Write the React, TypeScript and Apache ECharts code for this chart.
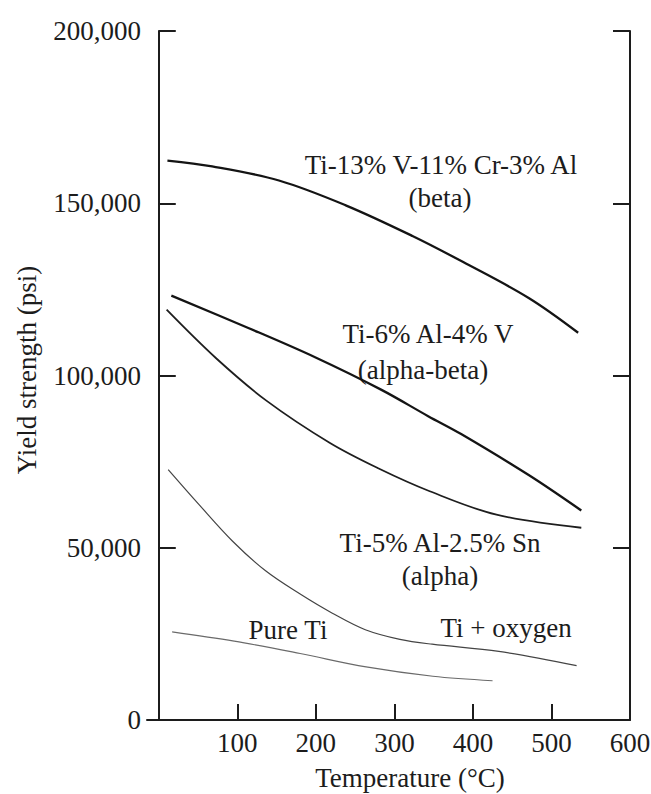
import React, { useEffect, useRef } from "react";
import * as echarts from "echarts";

// Temperature (°C) and yield strength (psi) for each curve
const betaTemps = [11, 68, 153, 238, 323, 387, 471, 534];
const betaStrength = [162400, 160700, 156600, 149400, 140500, 133000, 122500, 112400];

const alphaBetaTemps = [16, 114, 199, 283, 343, 385, 471, 538];
const alphaBetaStrength = [123200, 113800, 105300, 95900, 88200, 83000, 71100, 60800];

const alphaTemps = [10, 73, 137, 218, 280, 345, 430, 538];
const alphaStrength = [119100, 105000, 92700, 80400, 73000, 66400, 59600, 55800];

const oxygenTemps = [12, 51, 94, 136, 179, 221, 263, 307, 348, 433, 532];
const oxygenStrength = [72700, 62600, 51900, 43300, 36700, 31000, 26200, 23400, 22000, 19900, 15800];

const pureTemps = [17, 96, 180, 264, 349, 425];
const pureStrength = [25600, 22900, 19300, 15400, 12700, 11400];

const xTickValues = [100, 200, 300, 400, 500];
const xLabelValues = [100, 200, 300, 400, 500, 600];

const FONT = '"Liberation Serif", "DejaVu Serif", serif';
const INK = "#1c1c1c";
const FS = 27;

const zip = (xs: number[], ys: number[]) => xs.map((x, i) => [x, ys[i]]);

export default function App() {
  const ref = useRef<HTMLDivElement>(null);

  useEffect(() => {
    if (!ref.current) return;
    const chart = echarts.init(ref.current, undefined, { renderer: "svg" });

    const txt = (text: string, x: number, y: number, rotation = 0) => ({
      type: "text",
      x,
      y,
      rotation,
      style: {
        text,
        align: "center",
        verticalAlign: "middle",
        font: `${FS}px ${FONT}`,
        fontFamily: FONT,
        fontSize: FS,
        fill: INK,
      },
    });

    const lineSeries = (data: number[][], width: number, color: string) => ({
      type: "line",
      data,
      smooth: 0.35,
      symbol: "none",
      lineStyle: { width, color },
      xAxisIndex: 0,
      yAxisIndex: 0,
    });

    const yAxisBase = {
      type: "value",
      min: 0,
      max: 200000,
      interval: 50000,
      axisLine: { show: true, lineStyle: { color: INK, width: 2 } },
      axisTick: { show: true, inside: true, length: 17, lineStyle: { color: INK, width: 2 } },
      splitLine: { show: false },
    };

    chart.setOption({
      animation: false,
      backgroundColor: "#ffffff",
      grid: {
        left: 147,
        right: 21,
        top: 31,
        bottom: 74,
        containLabel: false,
        outerBoundsMode: "none",
      },
      xAxis: {
        type: "value",
        min: -15,
        max: 600,
        position: "bottom",
        axisLine: { show: true, onZero: false, lineStyle: { color: INK, width: 2 } },
        axisTick: {
          show: true,
          inside: true,
          length: 16,
          customValues: xTickValues,
          lineStyle: { color: INK, width: 2 },
        },
        axisLabel: {
          customValues: xLabelValues,
          fontFamily: FONT,
          fontSize: FS,
          color: INK,
          margin: 9,
        },
        splitLine: { show: false },
      },
      yAxis: [
        {
          ...yAxisBase,
          position: "left",
          axisLabel: {
            fontFamily: FONT,
            fontSize: FS,
            color: INK,
            margin: 6,
            formatter: (v: number) => v.toLocaleString("en-US"),
          },
        },
        {
          ...yAxisBase,
          position: "right",
          axisLabel: { show: false },
        },
      ],
      series: [
        lineSeries(zip(betaTemps, betaStrength), 2.3, "#141414"),
        lineSeries(zip(alphaBetaTemps, alphaBetaStrength), 2.3, "#141414"),
        lineSeries(zip(alphaTemps, alphaStrength), 1.8, "#1e1e1e"),
        lineSeries(zip(oxygenTemps, oxygenStrength), 1.2, "#444444"),
        lineSeries(zip(pureTemps, pureStrength), 1.2, "#6a6a6a"),
      ],
      graphic: [
        txt("Ti-13% V-11% Cr-3% Al", 441, 165),
        txt("(beta)", 440, 198),
        txt("Ti-6% Al-4% V", 428, 334),
        txt("(alpha-beta)", 423, 370),
        txt("Ti-5% Al-2.5% Sn", 440, 543),
        txt("(alpha)", 440, 576),
        txt("Pure Ti", 288, 630),
        txt("Ti + oxygen", 506, 628),
        txt("Temperature (°C)", 410, 778),
        txt("Yield strength (psi)", 27, 370, Math.PI / 2),
      ],
    });

    return () => chart.dispose();
  }, []);

  return (
    <div
      ref={ref}
      style={{ position: "fixed", left: 0, top: 0, width: 651, height: 794, background: "#fff" }}
    />
  );
}
